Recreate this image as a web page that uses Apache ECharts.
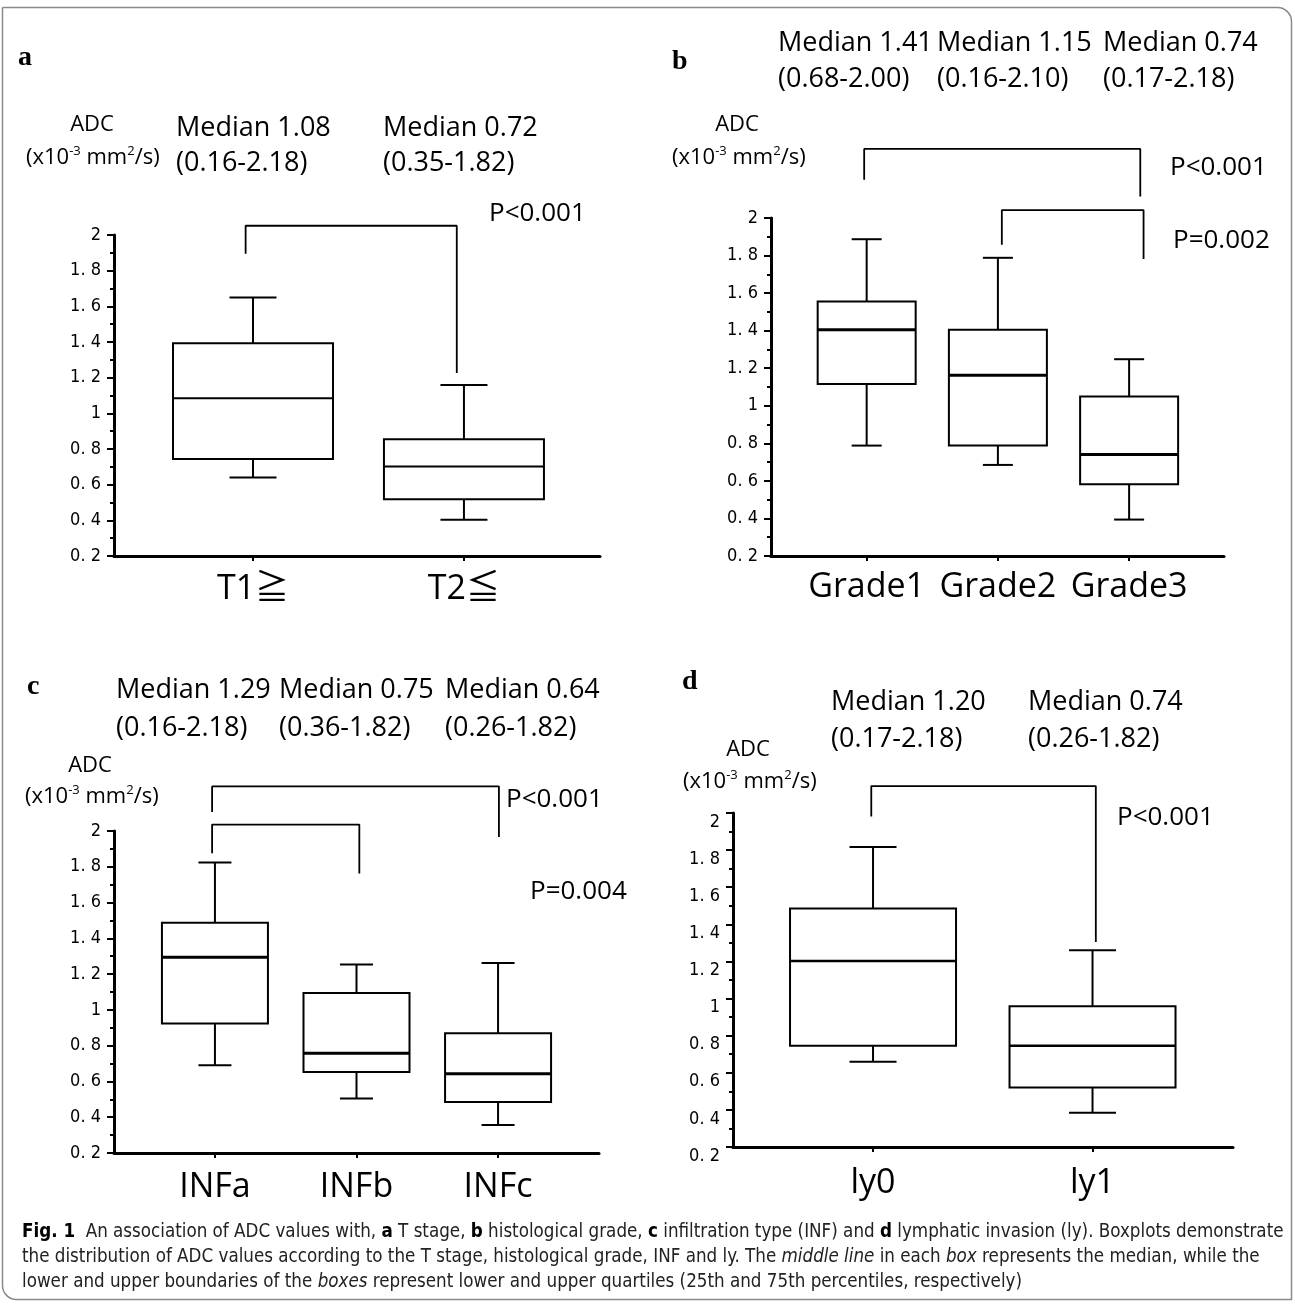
<!DOCTYPE html>
<html><head><meta charset="utf-8">
<script src="https://cdn.jsdelivr.net/npm/echarts@6.0.0/dist/echarts.min.js"></script>
<style>html,body{margin:0;padding:0;background:#fff}#c{width:1295px;height:1305px}</style>
</head><body><div id="c"></div>
<script>
// ---------------- data ----------------
const catsA = ['T1≧', 'T2≦'];
const catsB = ['Grade1', 'Grade2', 'Grade3'];
const catsC = ['INFa', 'INFb', 'INFc'];
const catsD = ['ly0', 'ly1'];
// [whiskerLow, Q1, median, Q3, whiskerHigh]
const boxA = [[0.64, 0.744, 1.085, 1.393, 1.65], [0.403, 0.518, 0.702, 0.855, 1.159]];
const boxB = [[0.788, 1.116, 1.405, 1.555, 1.887], [0.685, 0.788, 1.163, 1.405, 1.788], [0.394, 0.582, 0.74, 1.049, 1.248]];
const boxC = [[0.691, 0.924, 1.294, 1.487, 1.824], [0.505, 0.653, 0.757, 1.094, 1.254], [0.356, 0.485, 0.643, 0.869, 1.262]];
const boxD = [[0.659, 0.746, 1.203, 1.485, 1.817], [0.385, 0.52, 0.746, 0.958, 1.261]];
// significance brackets: [xLeft, xRight, yTop, yLeftEnd, yRightEnd]
const bracketA = [[0.965, 1.966, 2.052, 1.895, 1.226]];
const bracketB = [[0.981, 3.085, 2.368, 2.204, 2.115], [2.03, 3.11, 2.042, 1.858, 1.782]];
const bracketC = [[0.98, 3.006, 2.249, 2.106, 1.966], [0.98, 2.02, 2.036, 1.876, 1.762]];
const bracketD = [[0.992, 2.015, 2.145, 1.981, 1.305]];
const medianA = ['Median 1.08', 'Median 0.72'];
const rangeA = ['(0.16-2.18)', '(0.35-1.82)'];
const medianB = ['Median 1.41', 'Median 1.15', 'Median 0.74'];
const rangeB = ['(0.68-2.00)', '(0.16-2.10)', '(0.17-2.18)'];
const medianC = ['Median 1.29', 'Median 0.75', 'Median 0.64'];
const rangeC = ['(0.16-2.18)', '(0.36-1.82)', '(0.26-1.82)'];
const medianD = ['Median 1.20', 'Median 0.74'];
const rangeD = ['(0.17-2.18)', '(0.26-1.82)'];
const pA = ['P<0.001'];
const pB = ['P<0.001', 'P=0.002'];
const pC = ['P<0.001', 'P=0.004'];
const pD = ['P<0.001'];
const yTicks = {min: 0.2, max: 2, step: 0.2};
const panelLetters = ['a', 'b', 'c', 'd'];
const captionLines = [
  '{b|Fig. 1}  An association of ADC values with, {b|a} T stage, {b|b} histological grade, {b|c} infiltration type (INF) and {b|d} lymphatic invasion (ly). Boxplots demonstrate',
  'the distribution of ADC values according to the T stage, histological grade, INF and ly. The {i|middle line} in each {i|box} represents the median, while the',
  'lower and upper boundaries of the {i|boxes} represent lower and upper quartiles (25th and 75th percentiles, respectively)'
];

// ---------------- layout / style ----------------
const MAIN = "'Open Sans', 'Noto Sans', 'Noto Sans CJK JP', sans-serif";
const NARROW = "'Liberation Sans Narrow', 'DejaVu Sans Condensed', 'Roboto', sans-serif";
const SERIF = "'Liberation Serif', 'DejaVu Serif', serif";
const CAPF = "'Liberation Sans Narrow', 'DejaVu Sans Condensed', 'Roboto', sans-serif";

const panels = [
  {cats: catsA, box: boxA, br: bracketA, grid: {left: 114, top: 235, width: 486, height: 321}, xr: [0.341, 2.645], bw: 160, cw: 47, medW: 2, shift: false, lm: 16},
  {cats: catsB, box: boxB, br: bracketB, grid: {left: 771, top: 218, width: 453, height: 338}, xr: [0.271, 3.723], bw: 98, cw: 30, medW: 3, shift: false, lm: 14},
  {cats: catsC, box: boxC, br: bracketC, grid: {left: 114, top: 831, width: 485, height: 322}, xr: [0.287, 3.713], bw: 106, cw: 33, medW: 3, shift: false, lm: 17},
  {cats: catsD, box: boxD, br: bracketD, grid: {left: 733, top: 813, width: 500, height: 334}, xr: [0.362, 2.64], bw: 166, cw: 47, medW: 2.5, shift: true, lm: 19}
];

function fmtY(v) {
  const r = Math.round(v * 10) / 10;
  if (Math.abs(r - Math.round(r)) < 1e-9) return String(Math.round(r));
  return r.toFixed(1).replace('.', '. ');
}

function boxRender(bw, cw, medW) {
  return function (params, api) {
    const x = api.value(0);
    const pLo = api.coord([x, api.value(1)]);
    const pQ1 = api.coord([x, api.value(2)]);
    const pMd = api.coord([x, api.value(3)]);
    const pQ3 = api.coord([x, api.value(4)]);
    const pHi = api.coord([x, api.value(5)]);
    const cx = pLo[0];
    const st = {stroke: '#000', fill: null, lineWidth: 2};
    return {type: 'group', children: [
      {type: 'line', shape: {x1: cx, y1: pQ3[1], x2: cx, y2: pHi[1]}, style: st},
      {type: 'line', shape: {x1: cx, y1: pQ1[1], x2: cx, y2: pLo[1]}, style: st},
      {type: 'line', shape: {x1: cx - cw / 2, y1: pHi[1], x2: cx + cw / 2, y2: pHi[1]}, style: st},
      {type: 'line', shape: {x1: cx - cw / 2, y1: pLo[1], x2: cx + cw / 2, y2: pLo[1]}, style: st},
      {type: 'rect', shape: {x: cx - bw / 2, y: pQ3[1], width: bw, height: pQ1[1] - pQ3[1]}, style: {stroke: '#000', fill: '#fff', lineWidth: 2}},
      {type: 'line', shape: {x1: cx - bw / 2, y1: pMd[1], x2: cx + bw / 2, y2: pMd[1]}, style: {stroke: '#000', lineWidth: medW}}
    ]};
  };
}

const grids = [], xAxes = [], yAxes = [], series = [];
panels.forEach((p, i) => {
  grids.push(Object.assign({containLabel: false}, p.grid));
  const ticks = p.cats.map((c, k) => k + 1);
  xAxes.push({
    type: 'value', gridIndex: i, min: p.xr[0], max: p.xr[1],
    axisLine: {show: true, onZero: false, lineStyle: {color: '#000', width: 3}},
    axisTick: {show: true, customValues: ticks, length: 5, lineStyle: {color: '#000', width: 2}},
    axisLabel: {show: true, customValues: ticks, formatter: v => p.cats[Math.round(v) - 1],
      fontSize: 34, fontFamily: MAIN, color: '#000', margin: p.lm},
    splitLine: {show: false}
  });
  yAxes.push({
    type: 'value', gridIndex: i, min: yTicks.min, max: yTicks.max, interval: yTicks.step,
    axisLine: {show: true, onZero: false, lineStyle: {color: '#000', width: 3}},
    axisTick: {show: true, length: 7, lineStyle: {color: '#000', width: 2}},
    minorTick: {show: true, splitNumber: 2, length: 4, lineStyle: {color: '#000', width: 2}},
    splitLine: {show: false},
    axisLabel: {formatter: p.shift ? (v => '\n' + fmtY(v)) : fmtY, fontSize: 18, lineHeight: 18,
      fontFamily: NARROW, color: '#000', margin: 13}
  });
  series.push({
    type: 'custom', xAxisIndex: i, yAxisIndex: i, clip: false,
    renderItem: boxRender(p.bw, p.cw, p.medW),
    encode: {x: 0, y: [1, 2, 3, 4, 5]},
    data: p.box.map((b, k) => [k + 1].concat(b))
  });
  p.br.forEach(b => {
    series.push({
      type: 'line', xAxisIndex: i, yAxisIndex: i, clip: false, symbol: 'none', silent: true,
      lineStyle: {color: '#000', width: 1.8},
      data: [[b[0], b[3]], [b[0], b[2]], [b[1], b[2]], [b[1], b[4]]]
    });
  });
});

// ---------------- text annotations ----------------
function txt(text, x, y, size, extra) {
  return {type: 'text', x: x, y: y, silent: true, style: Object.assign({
    text: text, fontSize: size, fontFamily: MAIN, fill: '#000',
    textAlign: 'left', textVerticalAlign: 'middle', align: 'left', verticalAlign: 'middle'
  }, extra || {})};
}
const unitRich = {sup: {fontSize: 13, fontFamily: MAIN, verticalAlign: 'top', lineHeight: 26}};
function unitTxt(x, y) {
  return txt('(x10{sup|-3} mm{sup|2}/s)', x, y, 22, {rich: unitRich, lineHeight: 26});
}
const MS = 27; // median / range text size
const graphics = [];
graphics.push({type: 'rect', silent: true, shape: {x: 2.5, y: 7.5, width: 1289, height: 1292, r: [0, 14, 0, 14]},
  style: {fill: null, stroke: '#8a8a8a', lineWidth: 1.5}});
// panel letters
[[18, 58], [672, 62], [27, 687], [682, 682]].forEach((pos, k) => {
  graphics.push(txt(panelLetters[k], pos[0], pos[1], 28, {fontFamily: SERIF, fontWeight: 'bold'}));
});
// panel a
[176, 383].forEach((x, k) => { graphics.push(txt(medianA[k], x, 128, MS)); graphics.push(txt(rangeA[k], x, 163, MS)); });
graphics.push(txt('ADC', 92, 125, 22, {textAlign: 'center', align: 'center'}));
graphics.push(unitTxt(26, 158));
graphics.push(txt(pA[0], 489, 214, 26));
// panel b
[778, 937, 1103].forEach((x, k) => { graphics.push(txt(medianB[k], x, 43, MS)); graphics.push(txt(rangeB[k], x, 79, MS)); });
graphics.push(txt('ADC', 737, 125, 22, {textAlign: 'center', align: 'center'}));
graphics.push(unitTxt(672, 158));
graphics.push(txt(pB[0], 1170, 168, 26));
graphics.push(txt(pB[1], 1173, 241, 26));
// panel c
[116, 279, 445].forEach((x, k) => { graphics.push(txt(medianC[k], x, 690, MS)); graphics.push(txt(rangeC[k], x, 728, MS)); });
graphics.push(txt('ADC', 90, 766, 22, {textAlign: 'center', align: 'center'}));
graphics.push(unitTxt(25, 797));
graphics.push(txt(pC[0], 506, 800, 26));
graphics.push(txt(pC[1], 530, 892, 26));
// panel d
[831, 1028].forEach((x, k) => { graphics.push(txt(medianD[k], x, 702, MS)); graphics.push(txt(rangeD[k], x, 739, MS)); });
graphics.push(txt('ADC', 748, 750, 22, {textAlign: 'center', align: 'center'}));
graphics.push(unitTxt(683, 782));
graphics.push(txt(pD[0], 1117, 818, 26));

// caption: fit font size so line 1 spans the frame width
const mctx = document.createElement('canvas').getContext('2d');
mctx.font = '100px ' + CAPF;
const plain1 = captionLines[0].replace(/\{[bi]\|([^}]*)\}/g, '$1');
const capSize = Math.min(19, 100 * 1250 / mctx.measureText(plain1).width);
const capRich = {
  b: {fontSize: capSize, fontFamily: CAPF, fontWeight: 'bold', fill: '#000'},
  i: {fontSize: capSize, fontFamily: CAPF, fontStyle: 'italic', fill: '#222'}
};
[1232, 1257, 1282].forEach((y, k) => {
  graphics.push(txt(captionLines[k], 22, y, capSize, {fontFamily: CAPF, fill: '#222', rich: capRich}));
});

const chart = echarts.init(document.getElementById('c'), null, {renderer: 'canvas'});
chart.setOption({
  animation: false,
  backgroundColor: '#fff',
  grid: grids, xAxis: xAxes, yAxis: yAxes, series: series,
  graphic: {elements: graphics}
});
</script></body></html>
